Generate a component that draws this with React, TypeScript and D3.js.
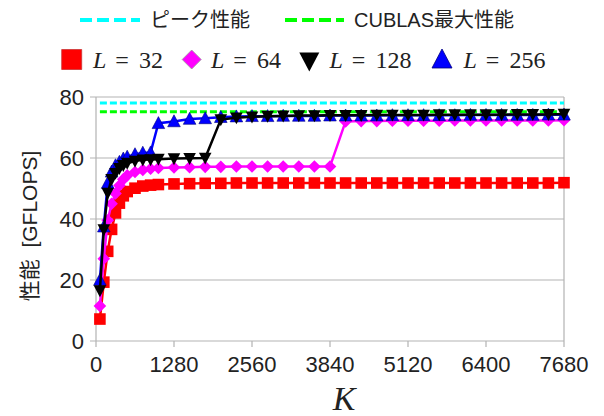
import React from "react";
import * as d3 from "d3";

// K values (x), shared by all series
const kValues = [
  64, 128, 192, 256, 320, 384, 448, 512, 640, 768, 896, 1024,
  1280, 1536, 1792, 2048, 2304, 2560, 2816, 3072, 3328, 3584, 3840,
  4096, 4352, 4608, 4864, 5120, 5376, 5632, 5888, 6144, 6400, 6656,
  6912, 7168, 7424, 7680,
];

const l32 = [
  7.2, 19.3, 29.4, 36.6, 42.0, 45.2, 47.6, 49.0, 50.1, 50.8, 51.1, 51.3,
  51.5, 51.6, 51.7, 51.7, 51.8, 51.8, 51.8, 51.8, 51.8, 51.8, 51.8,
  51.8, 51.8, 51.8, 51.8, 51.8, 51.8, 51.8, 51.8, 51.8, 51.8, 51.8,
  51.8, 51.8, 51.8, 51.9,
];
const l64 = [
  11.5, 27.0, 39.6, 45.0, 48.4, 51.0, 53.0, 54.3, 55.4, 56.1, 56.5, 56.7,
  56.9, 57.0, 57.1, 57.1, 57.2, 57.2, 57.2, 57.2, 57.2, 57.2, 57.2,
  72.0, 72.1, 72.1, 72.2, 72.2, 72.2, 72.2, 72.3, 72.3, 72.3, 72.3,
  72.3, 72.3, 72.3, 72.4,
];
const l128 = [
  16.5, 36.5, 48.5, 53.0, 55.0, 56.6, 57.6, 58.3, 59.0, 59.4, 59.5, 59.6,
  59.8, 59.9, 60.0, 72.6, 73.2, 73.5, 73.7, 73.8, 73.9, 73.9, 74.0,
  74.0, 74.0, 74.1, 74.1, 74.1, 74.1, 74.2, 74.2, 74.2, 74.2, 74.2,
  74.3, 74.3, 74.3, 74.4,
];
const l256 = [
  20.0, 37.5, 51.8, 55.5, 57.6, 58.7, 59.8, 60.4, 61.2, 61.7, 61.8, 71.4,
  72.0, 72.8, 73.0, 73.4, 73.6, 73.7, 73.7, 73.8, 73.8, 73.8, 73.9,
  73.9, 73.9, 73.9, 74.0, 74.0, 74.0, 74.0, 74.0, 74.1, 74.1, 74.1,
  74.1, 74.1, 74.2, 74.2,
];

const peakPerf = 78;
const cublasPerf = 75.2;

const xTicks = [0, 1280, 2560, 3840, 5120, 6400, 7680];
const yTicks = [0, 20, 40, 60, 80];

const width = 604;
const height = 416;
const sans = "'Liberation Sans', Arial, 'Noto Sans CJK JP', sans-serif";
const serif = "'Liberation Serif', 'DejaVu Serif', serif";

function markerPath(kind: string, r: number) {
  if (kind === "square") return `M${-r},${-r}H${r}V${r}H${-r}Z`;
  if (kind === "diamond") return `M0,${-r}L${r},0L0,${r}L${-r},0Z`;
  if (kind === "down") return `M${-r},${-r * 0.85}L${r},${-r * 0.85}L0,${r * 1.05}Z`;
  return `M${-r},${r * 0.85}L${r},${r * 0.85}L0,${-r * 1.05}Z`;
}

export default function App() {
  const x = d3.scaleLinear().domain([0, 7680]).range([96, 564]);
  const y = d3.scaleLinear().domain([0, 80]).range([341, 97]);

  const series = [
    { name: "32", values: l32, color: "#ff0000", marker: "square", stroke: "none" },
    { name: "64", values: l64, color: "#ff00ff", marker: "diamond", stroke: "none" },
    { name: "256", values: l256, color: "#0000ff", marker: "up", stroke: "#00007f" },
    { name: "128", values: l128, color: "#000000", marker: "down", stroke: "none" },
  ];

  const line = d3
    .line<number>()
    .x((d, i) => x(kValues[i]))
    .y((d) => y(d));

  const flat = (v: number) =>
    d3.line<number>().x((d) => x(d)).y(() => y(v))(kValues) || "";

  const legendItems = [
    { name: "32", color: "#ff0000", marker: "square", cx: 71.7, tx: 93 },
    { name: "64", color: "#ff00ff", marker: "diamond", cx: 191.7, tx: 211 },
    { name: "128", color: "#000000", marker: "down", cx: 309.3, tx: 329.5 },
    { name: "256", color: "#0000ff", marker: "up", cx: 442, tx: 463.5 },
  ];

  return (
    <svg
      width={width}
      height={height}
      style={{ position: "absolute", left: 0, top: 0, background: "#fff" }}
    >
      {/* grid */}
      {yTicks.map((t) => (
        <g key={"y" + t}>
          <line x1={90} x2={564} y1={y(t)} y2={y(t)} stroke="#b3b3b3" strokeWidth={1.2} />
          <text x={84} y={y(t) + 8} textAnchor="end" fontFamily={sans} fontSize={22} fill="#222">
            {t}
          </text>
        </g>
      ))}
      <line x1={96} x2={96} y1={97} y2={341} stroke="#b3b3b3" strokeWidth={1.2} />
      <line x1={564} x2={564} y1={97} y2={341} stroke="#b3b3b3" strokeWidth={1.2} />
      {xTicks.map((t) => (
        <g key={"x" + t}>
          <line x1={x(t)} x2={x(t)} y1={341} y2={347} stroke="#b3b3b3" strokeWidth={1.2} />
          <text x={x(t)} y={372} textAnchor="middle" fontFamily={sans} fontSize={22} fill="#222">
            {t}
          </text>
        </g>
      ))}

      {/* reference lines */}
      <path d={flat(peakPerf)} stroke="#00ffff" strokeWidth={3} strokeDasharray="7,3" fill="none" />
      <path d={flat(cublasPerf)} stroke="#00ff00" strokeWidth={3} strokeDasharray="7,3" fill="none" />

      {/* series */}
      {series.map((s) => (
        <g key={s.name}>
          <path d={line(s.values) || ""} stroke={s.color} strokeWidth={2.5} fill="none" />
          {s.values.map((v, i) => (
            <path
              key={i}
              d={markerPath(s.marker, s.marker === "square" ? 5.8 : 6.3)}
              transform={`translate(${x(kValues[i])},${y(v)})`}
              fill={s.color}
              stroke={s.stroke}
              strokeWidth={0.6}
            />
          ))}
        </g>
      ))}

      {/* axis titles */}
      <text
        transform="translate(37,226) rotate(-90)"
        textAnchor="middle"
        fontFamily={sans}
        fontSize={21}
        fill="#222"
        style={{ whiteSpace: "pre" }}
      >
        {"性能  [GFLOPS]"}
      </text>
      <text x={344} y={410} textAnchor="middle" fontFamily={serif} fontStyle="italic" fontSize={34} fill="#222">
        K
      </text>

      {/* legend row 1 */}
      <line x1={80} x2={140} y1={20} y2={20} stroke="#00ffff" strokeWidth={4} strokeDasharray="12,5" />
      <text x={150} y={27} fontFamily={sans} fontSize={20} fill="#222">ピーク性能</text>
      <line x1={285} x2={344} y1={20} y2={20} stroke="#00ff00" strokeWidth={4} strokeDasharray="12,5" />
      <text x={354} y={27} fontFamily={sans} fontSize={20} fill="#222">CUBLAS最大性能</text>

      {/* legend row 2 */}
      {legendItems.map((l) => (
        <g key={"lg" + l.name}>
          <path
            d={markerPath(l.marker, l.marker === "square" ? 10 : l.marker === "diamond" ? 9.5 : 10)}
            transform={`translate(${l.cx},${l.marker === "down" ? 61 : 59.5})`}
            fill={l.color}
            stroke={l.marker === "diamond" ? "#999" : l.marker === "up" ? "#00007f" : l.marker === "square" ? "#c33" : "none"}
            strokeWidth={0.8}
          />
          <text x={l.tx} y={68} fontFamily={serif} fontSize={24} fill="#222">
            <tspan fontStyle="italic">L</tspan>
            <tspan dx={9}>=</tspan>
            <tspan dx={10}>{l.name}</tspan>
          </text>
        </g>
      ))}
    </svg>
  );
}
